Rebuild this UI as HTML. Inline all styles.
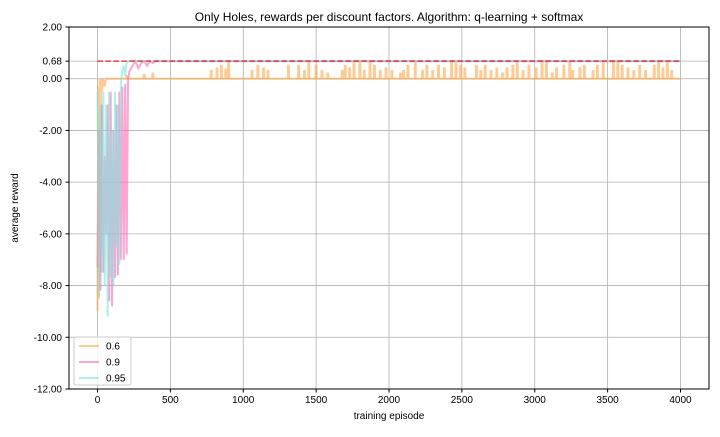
<!DOCTYPE html>
<html><head><meta charset="utf-8"><style>
body{margin:0;background:#fff;}
svg{font-family:"Liberation Sans","DejaVu Sans",sans-serif;}
</style></head><body>
<svg id="chart" width="720" height="432" viewBox="0 0 720 432">
<rect width="720" height="432" fill="#fff"/>
<g id="grid"></g>
<g id="series"></g>
<rect x="69" y="27" width="640" height="362" fill="none" stroke="#000" stroke-width="1"/>
<g id="ticks" font-size="10" fill="#000"></g>
<text x="389" y="21" font-size="12" text-anchor="middle">Only Holes, rewards per discount factors. Algorithm: q-learning + softmax</text>
<text x="389" y="419" font-size="10" text-anchor="middle">training episode</text>
<text x="18" y="208" font-size="10" text-anchor="middle" transform="rotate(-90 18 208)">average reward</text>
<g>
<rect x="74" y="337" width="57" height="48" rx="2" fill="#fff" fill-opacity="0.8" stroke="#ccc"/>
<g><line x1="79" y1="346" x2="99" y2="346" stroke="#ffa94d" stroke-opacity="0.6" stroke-width="2"/><text x="106" y="349.5" font-size="10">0.6</text></g>
<g><line x1="79" y1="362" x2="99" y2="362" stroke="#ff69b4" stroke-opacity="0.6" stroke-width="2"/><text x="106" y="365.5" font-size="10">0.9</text></g>
<g><line x1="79" y1="378" x2="99" y2="378" stroke="#7fe5de" stroke-opacity="0.6" stroke-width="2"/><text x="106" y="381.5" font-size="10">0.95</text></g>
</g>
</svg>
<script>
const xTicks=[0,500,1000,1500,2000,2500,3000,3500,4000];
const yTicks=[-12,-10,-8,-6,-4,-2,0,0.68,2];
const optimum=0.68;
const orangeEarlyX=[0,5,10,15,20,25,30,40,50,60,70,80];
const orangeEarlyY=[-9.0,-0.3,-8.5,0,-7.5,0,-0.5,0,-0.3,0,0,0];
const orangeSpikeX=[200,320,380,780,820,850,880,900,1060,1100,1140,1170,1310,1380,1420,1450,1500,1540,1580,1680,1700,1730,1760,1800,1830,1870,1900,1940,1980,2020,2080,2100,2130,2180,2230,2260,2300,2340,2380,2430,2460,2490,2520,2600,2630,2660,2700,2740,2780,2810,2850,2880,2920,2960,3010,3050,3080,3120,3150,3200,3240,3260,3310,3340,3400,3430,3470,3540,3570,3600,3640,3680,3720,3760,3820,3850,3880,3910,3940];
const orangeSpikeY=[0.1,0.15,0.2,0.3,0.4,0.5,0.35,0.68,0.3,0.5,0.4,0.3,0.5,0.5,0.3,0.6,0.5,0.3,0.2,0.3,0.5,0.4,0.6,0.68,0.3,0.68,0.5,0.3,0.4,0.3,0.2,0.3,0.5,0.6,0.3,0.5,0.3,0.5,0.4,0.68,0.6,0.5,0.4,0.5,0.3,0.5,0.3,0.4,0.2,0.4,0.5,0.6,0.3,0.5,0.4,0.68,0.68,0.2,0.4,0.5,0.6,0.3,0.4,0.5,0.3,0.5,0.6,0.68,0.68,0.5,0.4,0.3,0.5,0.3,0.5,0.6,0.4,0.6,0.3];
const pinkX=[0,10,20,30,40,50,60,70,80,90,100,110,120,130,140,150,160,170,180,190,200,210,220,240,260,280,300,320,340,360,380,400,450,4000];
const pinkY=[-7.3,-2,-8.2,-1,-7.5,-3,-6,-1,-8.6,-0.5,-8.8,-2,-7.7,-1,-7.6,-0.5,-7.0,-0.3,-7.0,-0.2,-6.8,0,0.3,0.5,0.68,0.4,0.6,0.68,0.5,0.68,0.6,0.68,0.68,0.68];
const cyanX=[0,10,20,30,40,50,60,70,80,90,100,110,120,130,140,150,160,170,180,190,200,210,220,4000];
const cyanY=[-0.5,-8.4,-1,-7.5,-0.5,-8,-1,-9.2,-0.5,-7.7,-2,-8,-0.5,-6.5,-1,-7.2,-0.2,0.3,0.5,0.1,0.6,0.68,0.68,0.68];

const L=69,R=709,T=27,B=389;
const sx=v=>97.5+v*583/4000;
const sy=v=>T+(2-v)*(B-T)/14;
const NS='http://www.w3.org/2000/svg';
function mk(tag,attrs,parent){const e=document.createElementNS(NS,tag);for(const k in attrs)e.setAttribute(k,attrs[k]);parent.appendChild(e);return e;}
const grid=document.getElementById('grid'),ticks=document.getElementById('ticks'),series=document.getElementById('series');
xTicks.forEach(t=>{
  const l=mk('line',{x1:sx(t),x2:sx(t),y1:T,y2:B,stroke:'#b0b0b0','stroke-width':0.8},grid);
  
  
  mk('line',{x1:sx(t),x2:sx(t),y1:B,y2:B+3.5,stroke:'#000'},ticks);
  const tx=mk('text',{x:sx(t),y:B+14,'text-anchor':'middle'},ticks);
  tx.textContent=t;
  
  
});
yTicks.forEach(t=>{
  const l=mk('line',{x1:L,x2:R,y1:sy(t),y2:sy(t),stroke:'#b0b0b0','stroke-width':0.8},grid);
  
  
  mk('line',{x1:L-3.5,x2:L,y1:sy(t),y2:sy(t),stroke:'#000'},ticks);
  const tx=mk('text',{x:L-7,y:sy(t)+3.5,'text-anchor':'end'},ticks);
  tx.textContent=t.toFixed(2);
  
  
});
function poly(xs,ys,color,name){
  const p=mk('polyline',{points:xs.map((x,i)=>sx(x)+','+sy(ys[i])).join(' '),fill:'none',stroke:color,'stroke-opacity':0.6,'stroke-width':2},series);
  
  
}
const ox=[...orangeEarlyX],oy=[...orangeEarlyY];
orangeSpikeX.forEach((x,i)=>{ox.push(x-4,x-3,x+3,x+4);oy.push(0,orangeSpikeY[i],orangeSpikeY[i],0);});
ox.push(4000);oy.push(0);
poly(ox,oy,'#ffa94d','series-0.6');
poly(pinkX,pinkY,'#ff69b4','series-0.9');
poly(cyanX,cyanY,'#7fe5de','series-0.95');
const opt=mk('line',{x1:sx(0),x2:sx(4000),y1:sy(optimum),y2:sy(optimum),stroke:'#ff0000','stroke-opacity':0.7,'stroke-width':1.5,'stroke-dasharray':'5.5,2.5'},series);


</script>
</body></html>
